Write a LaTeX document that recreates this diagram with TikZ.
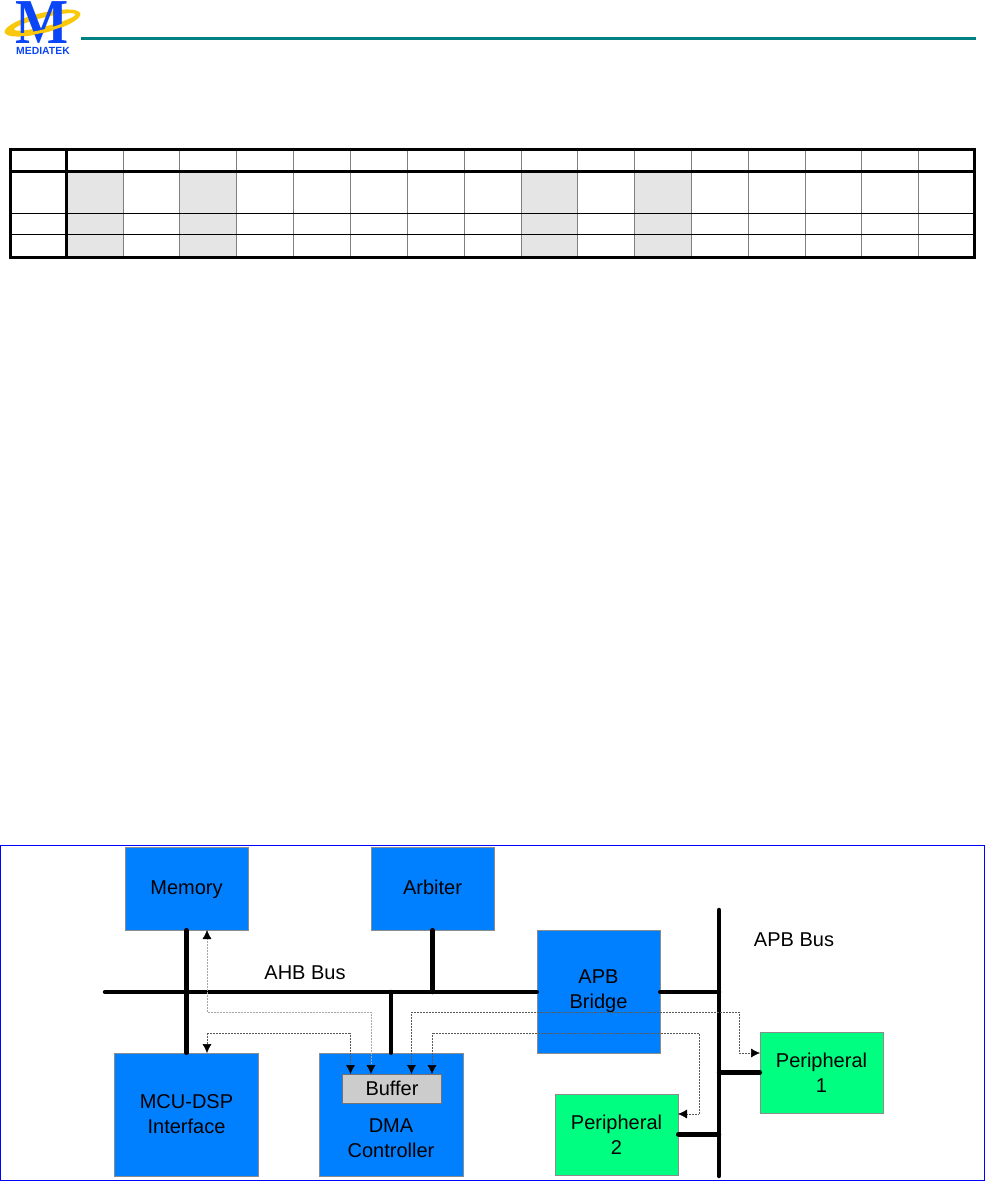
\documentclass[tikz,border=0pt]{standalone}
\usepackage{fontspec}
\setmainfont{Liberation Sans}
\newfontfamily\logoserif{Liberation Serif}
\usetikzlibrary{arrows.meta,positioning}
\definecolor{blockblue}{RGB}{0,128,255}
\definecolor{periphgreen}{RGB}{0,255,128}
\definecolor{logoblue}{RGB}{10,70,245}
\definecolor{logogold}{RGB}{250,200,10}
\definecolor{ruleteal}{RGB}{0,128,128}
\definecolor{shadecell}{RGB}{229,229,229}
\begin{document}
\begin{tikzpicture}[x=1pt, y=-1pt, >={Latex[length=9pt,width=9pt,color=black]},
  block/.style={draw=black!45, line width=0.5pt, fill=blockblue, align=center, inner sep=0pt, font=\fontsize{20}{25}\selectfont},
  memblock/.style={block, minimum width=123pt, minimum height=83pt, text height=15pt, text depth=4pt},
  ifblock/.style={block, minimum width=144pt, minimum height=123pt},
  periph/.style={block, fill=periphgreen, minimum width=123pt, minimum height=81pt},
  bus/.style={line width=4.5pt, line cap=round},
  trace/.style={<->, densely dotted, line width=0.5pt, draw=black!65},
  buslabel/.style={font=\fontsize{20}{24}\selectfont, inner sep=0pt}]
  \useasboundingbox (0,0) rectangle (985,1181);

  \foreach \cx in {67,180,521,634}
    \fill[shadecell] (\cx,172) rectangle +(56.5,84);
  \foreach \cx in {123,179,236,293,350,407,464,521,577,634,691,748,805,861,918}
    \draw[black!50, line width=1pt] (\cx,149) -- (\cx,257);
  \draw[line width=1pt] (10,213) -- (975,213);
  \draw[line width=1pt] (10,234) -- (975,234);
  \draw[line width=3pt] (10.5,171.5) -- (974,171.5);
  \draw[line width=3pt] (66,149) -- (66,257);
  \draw[line width=3pt] (10.5,149) rectangle (974,257);

  \draw[ruleteal, line width=3pt] (81,38.5) -- (976,38.5);
  \fill[logogold, even odd rule, rotate around={14:(42.5,23)}] (42.5,23) ellipse (39pt and 10pt) (45,22.5) ellipse (31.5pt and 4.5pt);
  \node[font=\fontsize{64}{64}\selectfont\logoserif\bfseries, text=logoblue, inner sep=0pt, xscale=.88, transform shape] (logom) at (42,22.5) {M};
  \draw[logogold, line width=3pt, rotate around={14:(42.5,23)}] ([shift={(40:36.5 and 8)}]42.5,23) arc[start angle=40, end angle=140, x radius=36.5, y radius=8];
  \node[font=\fontsize{10.4}{11}\selectfont\bfseries, text=logoblue, inner sep=0pt] (logotext) at (43,50.5) {MEDIATEK};

  \draw[blue, line width=1pt] (0.5,845.5) rectangle (984.5,1180.5);

  \node[memblock] (memory) at (186.5,888.5) {Memory};
  \node[memblock] (arbiter) at (432.5,888.5) {Arbiter};
  \node[block, minimum width=123pt, minimum height=123pt] (bridge) at (598.5,991.5) {APB\\Bridge};
  \node[ifblock] (mcu) at (186.5,1114.5) {MCU-DSP\\Interface};
  \node[ifblock] (dma) at (391,1114.5) {};
  \node[buslabel, align=center, below=66pt of dma.north, font=\fontsize{20}{25}\selectfont] (dmatext) {DMA\\Controller};
  \node[draw=black!55, line width=0.5pt, fill=black!20, minimum width=99pt, minimum height=29pt, inner sep=0pt, font=\fontsize{20}{22}\selectfont] (buffer) at (392,1088.8) {Buffer};
  \node[periph] (periphone) at (821.5,1072.5) {Peripheral\\1};
  \node[periph] (periphtwo) at (616.5,1134.5) {Peripheral\\2};

  \coordinate (ahbend) at (105,992);
  \coordinate (apbtop) at (719,910);
  \coordinate (apbbot) at (719,1176);
  \node[buslabel] (ahblabel) at (305,972.5) {AHB Bus};
  \node[buslabel] (apblabel) at (794,940) {APB Bus};

  \draw[bus] (memory) -- (mcu);
  \draw[bus] (ahbend) -- (bridge.west |- ahbend);
  \draw[bus] (arbiter.south) -- (arbiter.south |- ahbend);
  \draw[bus] (dma.north) -- (dma.north |- ahbend);
  \draw[bus] (apbtop) -- (apbbot);
  \draw[bus] (bridge.east |- ahbend) -- (apbtop |- ahbend);
  \draw[bus] (apbtop |- periphone.west) -- (periphone.west);
  \draw[bus] (apbtop |- periphtwo.east) -- (periphtwo.east);

  \coordinate (bufa) at (350.5,1074);
  \coordinate (bufb) at (371,1074);
  \coordinate (bufc) at (411.5,1074);
  \coordinate (bufd) at (432,1074);
  \coordinate (memport) at (207,930);
  \coordinate (mcuport) at (207,1053);
  \coordinate (oneport) at (760,1053);
  \coordinate (twoport) at (678,1114);
  \draw[trace, draw=black!35] (bufb) |- (memport |- 0,1012) -- (memport);
  \draw[trace] (bufa) |- (mcuport |- 0,1033) -- (mcuport);
  \draw[trace] (bufc) |- (739,1012) |- (oneport);
  \draw[trace] (bufd) |- (699,1033) |- (twoport);
\end{tikzpicture}
\end{document}
